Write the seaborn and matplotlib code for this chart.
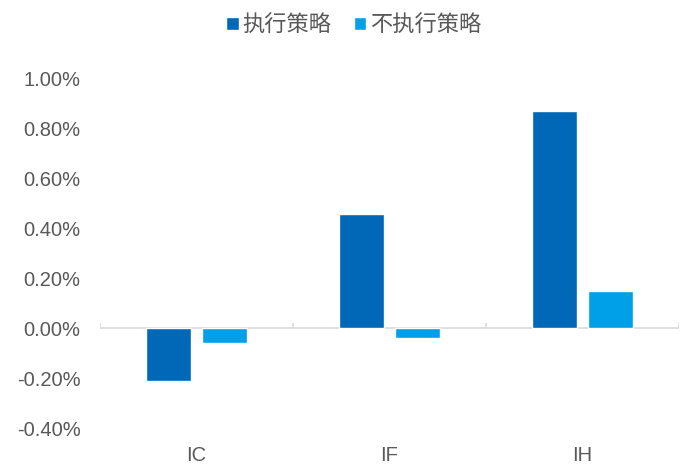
import matplotlib
matplotlib.use("Agg")
import matplotlib.pyplot as plt
from matplotlib.ticker import PercentFormatter, MultipleLocator
import seaborn as sns
import pandas as pd

# Index futures and the average return (%) with / without the strategy
categories = ["IC", "IF", "IH"]
with_strategy = [-0.21, 0.46, 0.87]
without_strategy = [-0.06, -0.04, 0.15]
series_names = ["执行策略", "不执行策略"]
colors = ["#0068B7", "#00A0E9"]

df = pd.DataFrame({
    "品种": categories * 2,
    "收益": with_strategy + without_strategy,
    "策略": [series_names[0]] * 3 + [series_names[1]] * 3,
})

sns.set_theme(style="white")
plt.rcParams["font.family"] = ["Liberation Sans", "Noto Sans CJK SC", "DejaVu Sans"]
plt.rcParams["axes.unicode_minus"] = False

text_color = "#595959"
axis_color = "#D9D9D9"

fig = plt.figure(figsize=(6.87, 4.74), dpi=100)
ax = fig.add_axes([100 / 687, 1 - 428 / 474, 579 / 687, 349 / 474])

sns.barplot(data=df, x="品种", y="收益", hue="策略", palette=colors,
            width=0.58, gap=0.21, saturation=1, ax=ax)

ax.set_ylim(-0.4, 1.0)
ax.set_xlim(-0.5, 2.5)
ax.yaxis.set_major_locator(MultipleLocator(0.2))
ax.yaxis.set_major_formatter(PercentFormatter(decimals=2))
ax.set_xlabel("")
ax.set_ylabel("")

for s in ax.spines.values():
    s.set_visible(False)

# zero line with small category-boundary ticks
ax.axhline(0, color=axis_color, lw=1.2, zorder=0)
ax.vlines([-0.5, 0.5, 1.5, 2.5], 0, 0.022, color=axis_color, lw=1.2, zorder=0)

ax.tick_params(axis="y", length=0, pad=14, labelsize=14.5, labelcolor=text_color)
ax.tick_params(axis="x", length=0, pad=13, labelsize=14.5, labelcolor=text_color)

sns.move_legend(ax, "center", bbox_to_anchor=(354 / 687, 1 - 25 / 474),
                bbox_transform=fig.transFigure, ncol=2, frameon=False,
                title=None, handlelength=0.56, handleheight=0.56,
                handletextpad=0.18, columnspacing=1.0,
                prop={"family": ["Noto Sans CJK SC"], "size": 16})
for t in ax.get_legend().get_texts():
    t.set_color(text_color)

fig.savefig("out.png", dpi=100)
